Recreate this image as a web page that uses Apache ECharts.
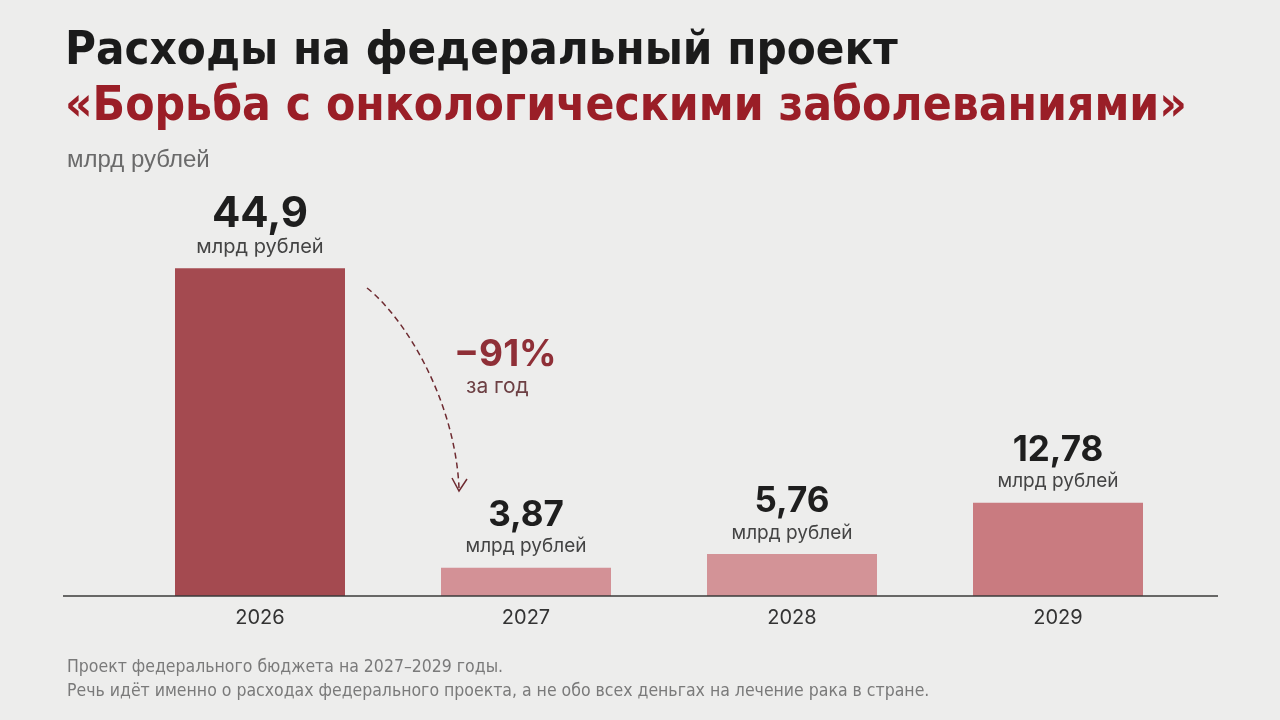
<!DOCTYPE html>
<html>
<head>
<meta charset="utf-8">
<script src="https://cdn.jsdelivr.net/npm/echarts@6/dist/echarts.min.js"></script>
<style>
  html, body { margin: 0; padding: 0; background: #ededec; }
  #chart { width: 1280px; height: 720px; }
</style>
</head>
<body>
<div id="chart"></div>
<script>
// data
const years = ["2026", "2027", "2028", "2029"];
const spending = [44.9, 3.87, 5.76, 12.78];
const barColors = ["#a44a50", "#d39196", "#d39397", "#c97b80"];
const unitText = "млрд рублей";
const changeText = "−91%";
const changeNote = "за год";

const titleFont = "'Liberation Sans Narrow', 'DejaVu Sans Condensed', sans-serif";
const bodyFont = "Inter, Roboto, sans-serif";

const chart = echarts.init(document.getElementById("chart"));

// first bar gets a bigger label
const barData = spending.map((v, i) => ({
  value: v,
  itemStyle: { color: barColors[i] },
  label: i === 0 ? { formatter: (p) => "{vb|" + String(p.value).replace(".", ",") + "}\n{ub|" + unitText + "}" } : undefined,
}));

const option = {
  backgroundColor: "#ededec",
  animation: false,
  title: [
    {
      text: "Расходы на федеральный проект",
      left: 60,
      top: 23,
      textStyle: { fontFamily: titleFont, fontWeight: "bold", fontSize: 47, color: "#1b1b1b" },
    },
    {
      text: "«Борьба с онкологическими заболеваниями»",
      left: 60,
      top: 79,
      textStyle: { fontFamily: titleFont, fontWeight: "bold", fontSize: 47.5, color: "#9a1e27" },
    },
    {
      text: unitText,
      left: 62,
      top: 143,
      textStyle: { fontFamily: "'Liberation Sans', Arial, sans-serif", fontWeight: "normal", fontSize: 24, color: "#6a6a6a" },
    },
    {
      text: "Проект федерального бюджета на 2027–2029 годы.\nРечь идёт именно о расходах федерального проекта, а не обо всех деньгах на лечение рака в стране.",
      left: 62,
      top: 650,
      textStyle: { fontFamily: titleFont, fontWeight: "normal", fontSize: 17.5, lineHeight: 24, color: "#7a7a7a" },
    },
  ],
  grid: { left: 127, right: 89, top: 231, bottom: 124 },
  xAxis: {
    type: "category",
    data: years,
    axisLine: { show: false },
    axisTick: { show: false },
    axisLabel: { margin: 12, fontFamily: bodyFont, fontSize: 20, color: "#333" },
  },
  yAxis: {
    type: "value",
    min: 0,
    max: 50,
    show: false,
  },
  series: [
    {
      type: "bar",
      barWidth: 170,
      data: barData,
      label: {
        show: true,
        position: "top",
        distance: 9,
        formatter: (p) => "{v|" + String(p.value).replace(".", ",") + "}\n{u|" + unitText + "}",
        rich: {
          v: { fontFamily: bodyFont, fontWeight: "bold", fontSize: 35, lineHeight: 38, color: "#1e1e1e" },
          u: { fontFamily: bodyFont, fontSize: 19, lineHeight: 24, color: "#444" },
          vb: { fontFamily: bodyFont, fontWeight: "bold", fontSize: 42, lineHeight: 42, color: "#1e1e1e" },
          ub: { fontFamily: bodyFont, fontSize: 20, lineHeight: 24, color: "#444" },
        },
      },
    },
  ],
  graphic: [
    {
      type: "line",
      shape: { x1: 63, y1: 596, x2: 1218, y2: 596 },
      style: { stroke: "#3a3a3a", lineWidth: 1.5 },
      z: 10,
    },
    {
      type: "bezierCurve",
      shape: { x1: 367, y1: 288, cpx1: 405, cpy1: 318, cpx2: 455, cpy2: 400, x2: 459, y2: 488 },
      style: { stroke: "#6e2a30", lineWidth: 1.5, lineDash: [6, 4], fill: null },
    },
    {
      type: "polyline",
      shape: { points: [[452, 478], [459, 491], [467, 479]] },
      style: { stroke: "#6e2a30", lineWidth: 1.5, fill: null },
    },
    {
      type: "text",
      left: 454,
      top: 336,
      style: { text: changeText, fontFamily: bodyFont, fontWeight: "bold", fontSize: 37, fill: "#8f2f37" },
    },
    {
      type: "text",
      left: 466,
      top: 376,
      style: { text: changeNote, fontFamily: bodyFont, fontSize: 21, fill: "#6d4044" },
    },
  ],
};

chart.setOption(option);
</script>
</body>
</html>
